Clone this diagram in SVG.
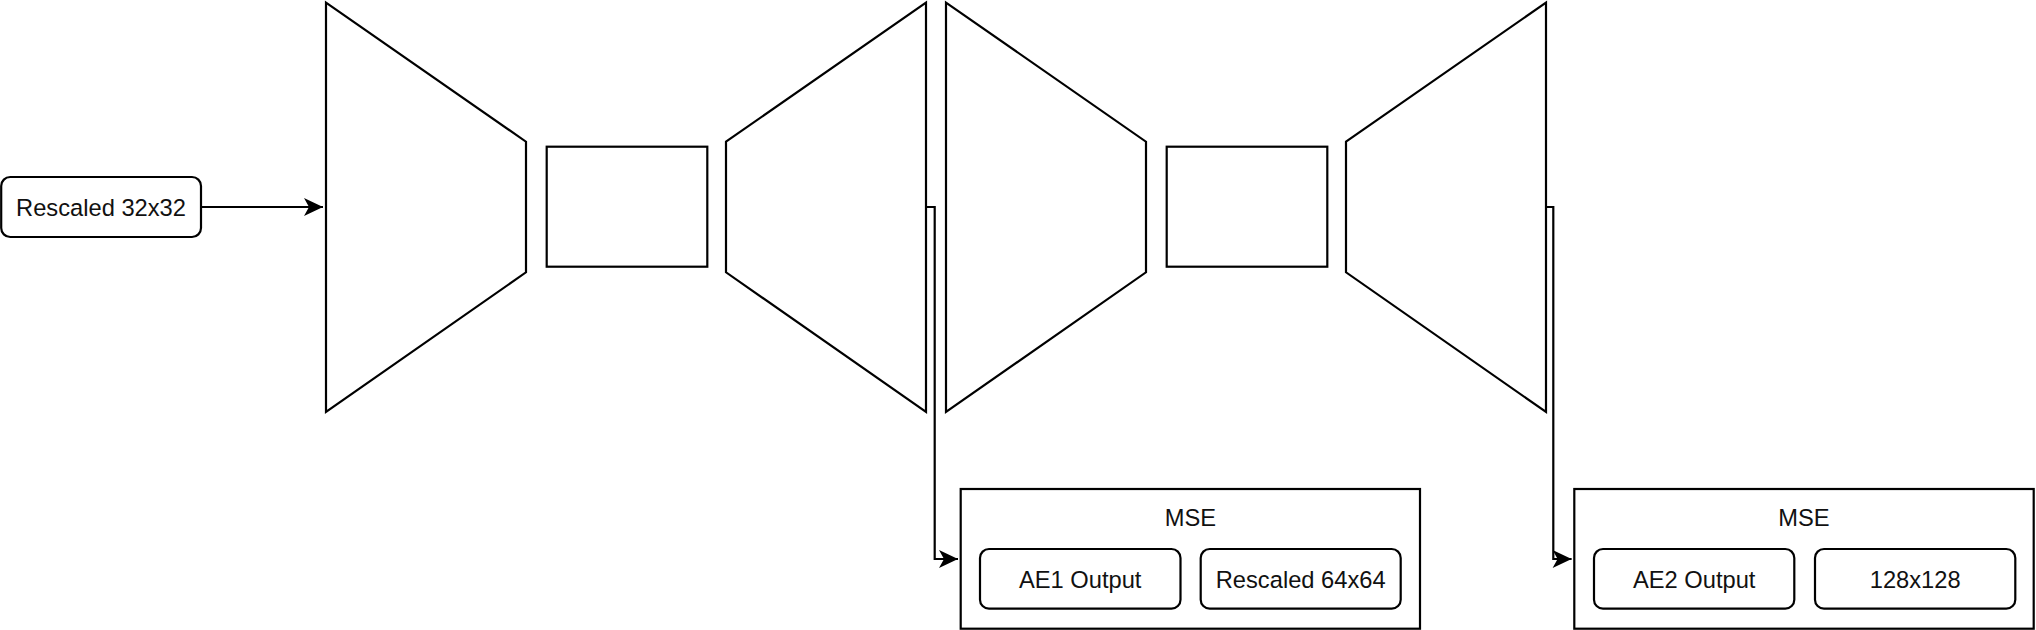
<svg xmlns="http://www.w3.org/2000/svg" width="2036" height="630" viewBox="0 0 2036 630">
  <defs>
    <marker id="arrow" markerUnits="userSpaceOnUse" markerWidth="24" markerHeight="24" viewBox="-20 -12 24 24" refX="0" refY="0" orient="auto">
      <path d="M0,0 L-19,-9 L-14,0 L-19,9 Z" fill="#000" stroke="none"/>
    </marker>
  </defs>
  <style>
    .shape { fill: #fff; stroke: #000; stroke-width: 2.2; }
    .conn { fill: none; stroke: #000; stroke-width: 2.2; }
    .lbl { font-family: "Liberation Sans", Arial, sans-serif; font-size: 23.7px; fill: #111; text-anchor: middle; }
  </style>
  <rect x="0" y="0" width="2036" height="630" fill="#fff"/>

  <g id="connectors">
    <path class="conn" d="M201,207 H323" marker-end="url(#arrow)"/>
    <path class="conn" d="M926,207 H934.7 V559 H958" marker-end="url(#arrow)"/>
    <path class="conn" d="M1546,207 H1553.3 V559 H1571.6" marker-end="url(#arrow)"/>
  </g>

  <g id="input">
    <rect class="shape" x="1.2" y="177" width="199.8" height="60" rx="9"/>
    <text class="lbl" x="101" y="215.5">Rescaled 32x32</text>
  </g>

  <g id="encoder1">
    <polygon class="shape" points="326,2.6 526,141.7 526,272.3 326,412"/>
  </g>
  <g id="latent1">
    <rect class="shape" x="546.7" y="146.7" width="160.6" height="120"/>
  </g>
  <g id="decoder1">
    <polygon class="shape" points="726,141.7 926,2.6 926,412 726,272.3"/>
  </g>

  <g id="encoder2">
    <polygon class="shape" points="946,2.6 1146,141.7 1146,272.3 946,412"/>
  </g>
  <g id="latent2">
    <rect class="shape" x="1166.7" y="146.7" width="160.6" height="120"/>
  </g>
  <g id="decoder2">
    <polygon class="shape" points="1346,141.7 1546,2.6 1546,412 1346,272.3"/>
  </g>

  <g id="mse1">
    <rect class="shape" x="960.7" y="489" width="459.3" height="139.7"/>
    <text class="lbl" x="1190.4" y="525.7">MSE</text>
  </g>
  <g id="ae1-output">
    <rect class="shape" x="980" y="549" width="200.5" height="59.7" rx="9"/>
    <text class="lbl" x="1080.2" y="587.5">AE1 Output</text>
  </g>
  <g id="rescaled64">
    <rect class="shape" x="1200.7" y="549" width="200" height="59.7" rx="9"/>
    <text class="lbl" x="1300.7" y="587.5">Rescaled 64x64</text>
  </g>

  <g id="mse2">
    <rect class="shape" x="1574.3" y="489" width="459.4" height="139.7"/>
    <text class="lbl" x="1804" y="525.7">MSE</text>
  </g>
  <g id="ae2-output">
    <rect class="shape" x="1594" y="549" width="200.3" height="59.7" rx="9"/>
    <text class="lbl" x="1694.2" y="587.5">AE2 Output</text>
  </g>
  <g id="size128">
    <rect class="shape" x="1815" y="549" width="200.3" height="59.7" rx="9"/>
    <text class="lbl" x="1915.2" y="587.5">128x128</text>
  </g>
</svg>
